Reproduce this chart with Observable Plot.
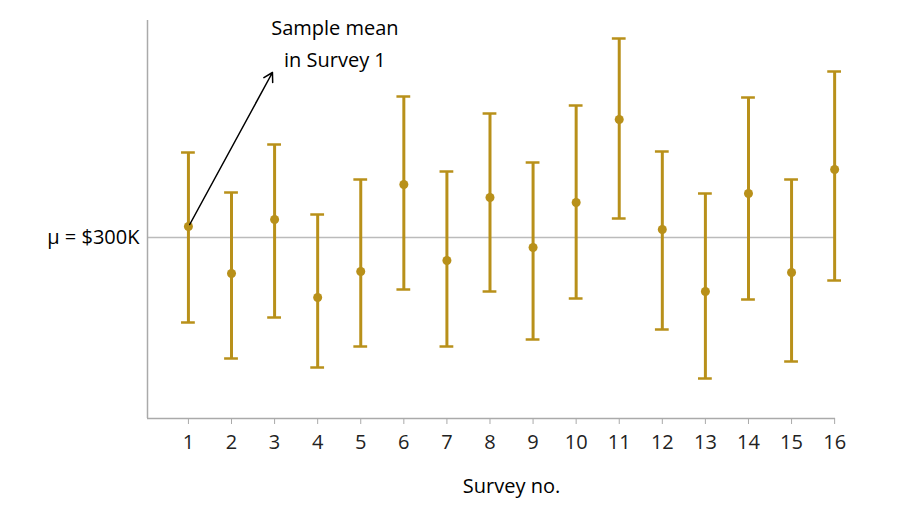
<!DOCTYPE html>
<html><head><meta charset="utf-8">
<script src="https://cdn.jsdelivr.net/npm/d3@7"></script>
<script src="https://cdn.jsdelivr.net/npm/@observablehq/plot@0.6"></script>
<style>body{margin:0;background:#fff}</style>
</head><body><div id="chart"></div>
<script>
const surveys = d3.range(1, 17);
const means = [305.5, 282, 309, 270, 283, 326.5, 288.5, 320, 295, 317.5, 359, 304, 273, 322, 282.5, 334];
const upper = [342.5, 322.5, 346.5, 311.5, 329, 370.5, 333, 362, 337.5, 366, 399.5, 343, 322, 370, 329, 383];
const lower = [257.5, 239.5, 260, 235, 245.5, 274, 245.5, 273, 249, 269.5, 309.5, 254, 229.5, 269, 238, 278.5];
const mu = 300;
const data = surveys.map((s, i) => ({s, m: means[i], hi: upper[i], lo: lower[i]}));
const gold = "#b8901a";
const font = "Open Sans";
const cap = 0.16;

const chart = Plot.plot({
  width: 905, height: 513,
  marginTop: 20, marginBottom: 95, marginLeft: 147, marginRight: 70,
  style: {fontFamily: font, background: "#fff"},
  x: {type: "linear", domain: [0.05, 16.02], axis: null},
  y: {type: "linear", domain: [209.5, 408.5], axis: null},
  marks: [
    Plot.ruleY([mu], {stroke: "#bbb", strokeWidth: 1.5}),
    Plot.ruleY([209.5], {stroke: "#aaa", strokeWidth: 1.5}),
    Plot.ruleX([0.05], {stroke: "#aaa", strokeWidth: 1.5}),
    Plot.ruleX(surveys, {x: d => d, y1: 209.5, y2: 206.5, stroke: "#aaa"}),
    Plot.text(surveys, {x: d => d, y: 209.5, dy: 24, text: d => String(d), fontSize: 20, fill: "#222"}),
    Plot.text(["Survey no."], {x: 8.5, y: 209.5, dy: 68, text: d => d, fontSize: 20, fill: "#000"}),
    Plot.text(["μ = $300K"], {x: 0.05, y: mu, dx: -8, textAnchor: "end", text: d => d, fontSize: 20, fill: "#000"}),
    Plot.ruleX(data, {x: "s", y1: "lo", y2: "hi", stroke: gold, strokeWidth: 3}),
    Plot.ruleY(data, {y: "hi", x1: d => d.s - cap, x2: d => d.s + cap, stroke: gold, strokeWidth: 2.5}),
    Plot.ruleY(data, {y: "lo", x1: d => d.s - cap, x2: d => d.s + cap, stroke: gold, strokeWidth: 2.5}),
    Plot.dot(data, {x: "s", y: "m", r: 4.5, fill: gold}),
    Plot.arrow([{x1: 1.03, y1: 306.5, x2: 2.95, y2: 382.5}], {x1: "x1", y1: "y1", x2: "x2", y2: "y2", stroke: "#000", strokeWidth: 1.5, headLength: 10}),
    Plot.text(["Sample mean\nin Survey 1"], {x: 4.4, y: 408.5, dy: 20, text: d => d, fontSize: 20, fill: "#000", lineHeight: 1.6})
  ]
});
document.getElementById("chart").append(chart);
</script>
</body></html>
